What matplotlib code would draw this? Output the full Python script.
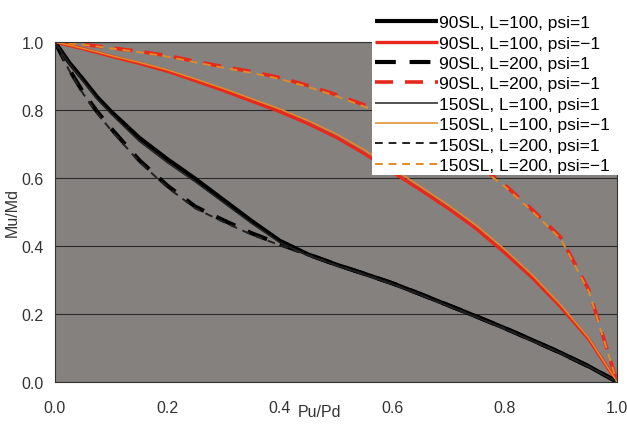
import matplotlib as mpl
mpl.use('Agg')
import matplotlib.pyplot as plt
from matplotlib.patches import Rectangle

plt.rcParams['font.family'] = ['Liberation Sans', 'DejaVu Sans']

# Pu/Pd sample positions
pu_pd = [0.0, 0.025, 0.05, 0.075, 0.1, 0.15, 0.2, 0.25, 0.3, 0.35, 0.4, 0.45, 0.5,
         0.55, 0.6, 0.65, 0.7, 0.75, 0.8, 0.85, 0.9, 0.95, 1.0]

# Mu/Md
sl90_l100_pos = [1.0, 0.94, 0.89, 0.838, 0.795, 0.718, 0.655, 0.597, 0.535, 0.473, 0.415, 0.375, 0.345,
                 0.318, 0.29, 0.258, 0.225, 0.192, 0.158, 0.122, 0.085, 0.045, 0.0]
sl90_l100_neg = [1.0, 0.99, 0.98, 0.969, 0.958, 0.937, 0.914, 0.886, 0.857, 0.826, 0.795, 0.76, 0.72,
                 0.672, 0.618, 0.565, 0.51, 0.45, 0.38, 0.305, 0.22, 0.125, 0.0]
sl90_l200_pos = [1.0, 0.92, 0.852, 0.795, 0.745, 0.652, 0.577, 0.515, 0.475, 0.437, 0.405, 0.375, 0.345,
                 0.318, 0.29, 0.258, 0.225, 0.192, 0.158, 0.122, 0.085, 0.045, 0.0]
sl90_l200_neg = [1.0, 0.997, 0.993, 0.988, 0.983, 0.972, 0.96, 0.943, 0.927, 0.913, 0.895, 0.872, 0.845,
                 0.815, 0.78, 0.74, 0.695, 0.642, 0.58, 0.505, 0.425, 0.27, 0.0]
sl150_l100_pos = [1.0, 0.937, 0.885, 0.832, 0.788, 0.708, 0.645, 0.588, 0.527, 0.466, 0.41, 0.372, 0.343,
                  0.316, 0.288, 0.256, 0.223, 0.19, 0.156, 0.12, 0.084, 0.044, 0.0]
sl150_l100_neg = [1.0, 0.991, 0.981, 0.971, 0.96, 0.94, 0.918, 0.891, 0.863, 0.833, 0.803, 0.769, 0.73,
                  0.683, 0.629, 0.575, 0.52, 0.46, 0.39, 0.313, 0.226, 0.128, 0.0]
sl150_l200_pos = [1.0, 0.917, 0.848, 0.79, 0.74, 0.647, 0.572, 0.51, 0.47, 0.433, 0.402, 0.373, 0.343,
                  0.316, 0.288, 0.256, 0.223, 0.19, 0.156, 0.12, 0.084, 0.044, 0.0]
sl150_l200_neg = [1.0, 0.996, 0.992, 0.987, 0.981, 0.97, 0.957, 0.94, 0.924, 0.909, 0.891, 0.868, 0.841,
                  0.81, 0.775, 0.735, 0.69, 0.637, 0.575, 0.5, 0.42, 0.265, 0.0]

labels = ['90SL, L=100, psi=1', '90SL, L=100, psi=\u22121',
          '90SL, L=200, psi=1', '90SL, L=200, psi=\u22121',
          '150SL, L=100, psi=1', '150SL, L=100, psi=\u22121',
          '150SL, L=200, psi=1', '150SL, L=200, psi=\u22121']
series = [sl90_l100_pos, sl90_l100_neg, sl90_l200_pos, sl90_l200_neg,
          sl150_l100_pos, sl150_l100_neg, sl150_l200_pos, sl150_l200_neg]

red = '#e8281c'
orange = '#e08a2a'
styles = [
    dict(color='black', lw=3.0, ls='-'),
    dict(color=red, lw=2.4, ls='-'),
    dict(color='black', lw=3.0, ls=(0, (5, 3.3))),
    dict(color=red, lw=2.6, ls=(0, (5, 3.3))),
    dict(color='#222222', lw=1.1, ls='-'),
    dict(color=orange, lw=1.1, ls='-'),
    dict(color='#222222', lw=1.4, ls=(0, (4, 3))),
    dict(color=orange, lw=1.4, ls=(0, (4, 3))),
]

fig = plt.figure(figsize=(6.27, 4.27), dpi=100)
ax = fig.add_axes([0.0877, 0.1037, 0.8963, 0.7956])
ax.set_facecolor('#85817e')

handles = []
for y, lab, st in zip(series, labels, styles):
    h, = ax.plot(pu_pd, y, label=lab, solid_capstyle='butt', **st)
    handles.append(h)

ax.set_xlim(0, 1)
ax.set_ylim(0, 1)
ax.set_xticks([0.0, 0.2, 0.4, 0.6, 0.8, 1.0])
ax.set_yticks([0.0, 0.2, 0.4, 0.6, 0.8, 1.0])
ax.set_xticklabels(['0.0', '0.2', '0.4', '0.6', '0.8', '1.0'])
ax.set_yticklabels(['0.0', '0.2', '0.4', '0.6', '0.8', '1.0'])
ax.tick_params(length=0, labelsize=11.5, labelcolor='#333333')
ax.tick_params(axis='x', pad=13)
ax.tick_params(axis='y', pad=8)
ax.yaxis.grid(True, color='#2a2a2a', lw=0.8)
for s in ax.spines.values():
    s.set_color('#333333')
    s.set_linewidth(0.8)

ax.set_xlabel('Pu/Pd', fontsize=11.5, color='#333333')
ax.xaxis.set_label_coords(0.47, -0.066)
ax.set_ylabel('Mu/Md', fontsize=11.5, color='#333333')
ax.yaxis.set_label_coords(-0.062, 0.5)

# white legend panel reaching the right edge of the figure
fig.patches.append(Rectangle((0.593, 0.588), 0.407, 0.412, transform=fig.transFigure,
                             facecolor='white', edgecolor='none', zorder=4))

fig.legend(handles=handles, loc='upper right', bbox_to_anchor=(0.976, 0.966),
           fontsize=12.5, frameon=False, handlelength=3.6, handletextpad=0.1,
           labelspacing=0.3, borderpad=0.1, borderaxespad=0)

fig.savefig('out.png', dpi=100)
